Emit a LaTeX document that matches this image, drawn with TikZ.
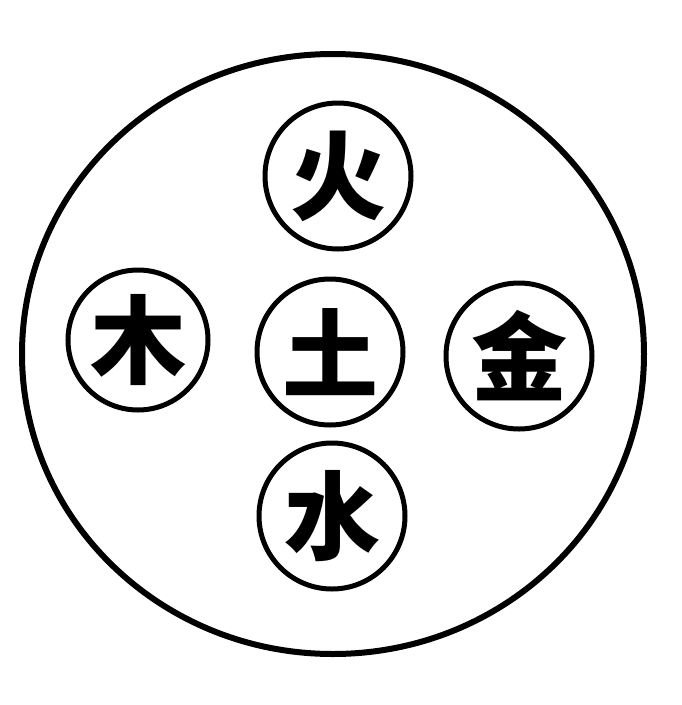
\documentclass[tikz,border=0pt]{standalone}
\usepackage{fontspec}
\newfontfamily\cjk{Noto Sans CJK SC}
\begin{document}
\begin{tikzpicture}[x=1pt,y=-1pt,
  outer/.style={draw=black,line width=6pt},
  elem/.style={circle,draw=black,line width=5pt,minimum size=146pt,inner sep=0pt,
    font=\cjk\bfseries\fontsize{96}{96}\selectfont}]
\useasboundingbox[fill=white] (0,0) rectangle (682,705);
\draw[outer] (333,354) ellipse [x radius=311, y radius=300];
\node[elem] (huo) at (338,176) {火};
\node[elem,minimum size=140pt] (mu) at (138,340) {木};
\node[elem] (tu) at (330,352) {土};
\node[elem] (jin) at (519,356) {金};
\node[elem] (shui) at (332,516) {水};
\end{tikzpicture}
\end{document}
